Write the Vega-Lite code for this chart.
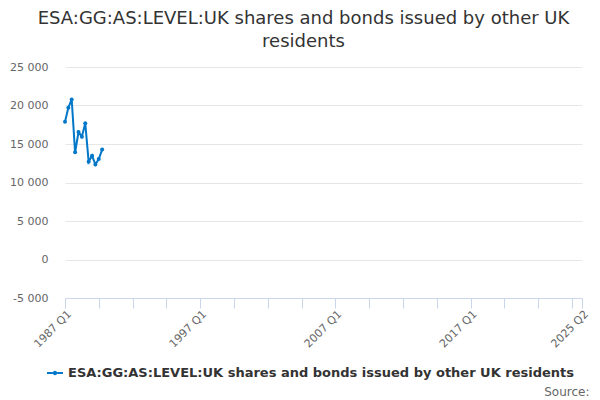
{
  "$schema": "https://vega.github.io/schema/vega-lite/v6.json",
  "width": 517,
  "height": 231,
  "autosize": {"type": "none"},
  "padding": {"left": 65, "top": 67, "right": 18, "bottom": 102},
  "background": "#ffffff",
  "title": {
    "text": ["ESA:GG:AS:LEVEL:UK shares and bonds issued by other UK", "residents"],
    "anchor": "middle",
    "frame": "group",
    "dx": -20,
    "offset": 10,
    "font": "DejaVu Sans",
    "fontSize": 18,
    "fontWeight": "normal",
    "color": "#333333",
    "lineHeight": 23
  },
  "data": {
    "values": [
      {"date": "1987-01-01", "value": 17900},
      {"date": "1987-04-01", "value": 19700},
      {"date": "1987-07-01", "value": 20780},
      {"date": "1987-10-01", "value": 13920},
      {"date": "1988-01-01", "value": 16550},
      {"date": "1988-04-01", "value": 15950},
      {"date": "1988-07-01", "value": 17700},
      {"date": "1988-10-01", "value": 12710},
      {"date": "1989-01-01", "value": 13480},
      {"date": "1989-04-01", "value": 12340},
      {"date": "1989-07-01", "value": 13050},
      {"date": "1989-10-01", "value": 14270}
    ]
  },
  "mark": {
    "type": "line",
    "strokeWidth": 2,
    "point": {"filled": true, "size": 16}
  },
  "encoding": {
    "x": {
      "field": "date",
      "type": "temporal",
      "scale": {
        "type": "utc",
        "domain": [
          {"year": 1987, "month": 1, "date": 1, "utc": true},
          {"year": 2025, "month": 4, "date": 1, "utc": true}
        ]
      },
      "axis": {
        "title": "Source:",
        "titleFont": "DejaVu Sans",
        "titleFontSize": 12,
        "titleFontWeight": "normal",
        "titleColor": "#666666",
        "titleAlign": "right",
        "titleAnchor": null,
        "titleX": 524,
        "titleY": 93,
        "titleBaseline": "middle",
        "values": [
          {"year": 1987, "month": 1, "date": 1, "utc": true},
          {"year": 1989, "month": 7, "date": 1, "utc": true},
          {"year": 1992, "month": 1, "date": 1, "utc": true},
          {"year": 1994, "month": 7, "date": 1, "utc": true},
          {"year": 1997, "month": 1, "date": 1, "utc": true},
          {"year": 1999, "month": 7, "date": 1, "utc": true},
          {"year": 2002, "month": 1, "date": 1, "utc": true},
          {"year": 2004, "month": 7, "date": 1, "utc": true},
          {"year": 2007, "month": 1, "date": 1, "utc": true},
          {"year": 2009, "month": 7, "date": 1, "utc": true},
          {"year": 2012, "month": 1, "date": 1, "utc": true},
          {"year": 2014, "month": 7, "date": 1, "utc": true},
          {"year": 2017, "month": 1, "date": 1, "utc": true},
          {"year": 2019, "month": 7, "date": 1, "utc": true},
          {"year": 2022, "month": 1, "date": 1, "utc": true},
          {"year": 2024, "month": 7, "date": 1, "utc": true},
          {"year": 2025, "month": 4, "date": 1, "utc": true}
        ],
        "labelExpr": "((utcmonth(datum.value) == 0 && (utcyear(datum.value) - 1987) % 10 == 0) || utcyear(datum.value) == 2025) ? utcyear(datum.value) + ' Q' + (floor(utcmonth(datum.value) / 3) + 1) : ''",
        "labelAngle": -45,
        "labelFont": "DejaVu Sans",
        "labelFontSize": 11,
        "labelColor": "#666666",
        "labelOverlap": false,
        "labelBound": false,
        "labelFlush": false,
        "labelPadding": 0,
        "grid": false,
        "domainColor": "#ccd6eb",
        "tickColor": "#ccd6eb",
        "tickSize": 10
      }
    },
    "y": {
      "field": "value",
      "type": "quantitative",
      "scale": {"domain": [-5000, 25000], "nice": false, "zero": false},
      "axis": {
        "title": null,
        "values": [-5000, 0, 5000, 10000, 15000, 20000, 25000],
        "labelExpr": "replace(replace(format(datum.value, ','), ',', ' '), '\u2212', '-')",
        "labelFont": "DejaVu Sans",
        "labelFontSize": 11,
        "labelColor": "#666666",
        "labelPadding": 17,
        "domain": false,
        "ticks": false,
        "grid": true,
        "gridColor": "#e6e6e6"
      }
    },
    "color": {
      "datum": "ESA:GG:AS:LEVEL:UK shares and bonds issued by other UK residents",
      "type": "nominal",
      "scale": {"range": ["#0077c8"]},
      "legend": {
        "title": null,
        "orient": "none",
        "legendX": -18,
        "legendY": 298,
        "symbolType": "M-1,-0.12H-0.28V0.12H-1Z M0.28,-0.12H1V0.12H0.28Z M-0.28,0A0.28,0.28 0 1,1 0.28,0A0.28,0.28 0 1,1 -0.28,0Z",
        "symbolSize": 256,
        "symbolStrokeWidth": 0,
        "symbolFillColor": "#0077c8",
        "labelFont": "DejaVu Sans",
        "labelFontSize": 13,
        "labelFontWeight": "bold",
        "labelColor": "#333333",
        "labelLimit": 0,
        "labelOffset": 5
      }
    }
  },
  "config": {
    "view": {"stroke": null}
  }
}
